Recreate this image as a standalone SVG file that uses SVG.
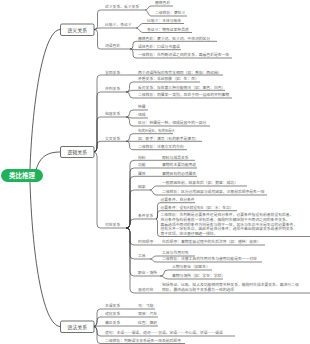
<svg xmlns="http://www.w3.org/2000/svg" width="310" height="344" viewBox="0 0 310 344">
<style>
text{font-family:"Noto Sans CJK SC","Noto Sans",sans-serif}
.t{font-size:3.8px;fill:#666}
.c{stroke:#333;stroke-width:0.6;fill:none}
.m{stroke:#333;stroke-width:0.8;fill:none}
.u{stroke:#333;stroke-width:0.6}
.box{fill:#fff;stroke:#333;stroke-width:0.7}
.bt{font-size:5px;fill:#444;text-anchor:middle}
.rt{font-size:6.5px;font-weight:bold;fill:#fff;text-anchor:middle}
</style>
<rect width="310" height="344" fill="#fff"/>
<g id="connectors">
<path class="m" d="M30 169 C32 110 42 29.5 60.5 29.5"/>
<path class="m" d="M36 170 C40 156 48 152 60.5 152"/>
<path class="m" d="M30 182 C32 250 42 326.5 60.5 326.5"/>
<path class="c" d="M94 29.5 Q97.5 29.5 97.5 26.5 V13 Q97.5 10 100.5 10"/>
<path class="c" d="M94 29.5 C96 29.5 96 28 100.5 28"/>
<path class="c" d="M94 29.5 Q97.5 29.5 97.5 32.5 V46 Q97.5 49 100.5 49"/>
<path class="c" d="M145 10 C148 10 148 6 151 6"/>
<path class="c" d="M145 10 C148 10 148 16 151 16"/>
<path class="c" d="M136 28 C139.5 28 139.5 23.5 142.5 23.5"/>
<path class="c" d="M136 28 C139.5 28 139.5 32.5 142.5 32.5"/>
<path class="c" d="M130 49 Q133 49 133 46 V44.3 Q133 41.3 136 41.3"/>
<path class="c" d="M130 49 C133 49 133 49.7 136 49.7"/>
<path class="c" d="M130 49 Q133 49 133 52 V55 Q133 58 136 58"/>
<path class="c" d="M93 152 Q97 152 97 148 V79 Q97 75 100 75"/>
<path class="c" d="M93 152 Q97 152 97 148 V96 Q97 92 100 92"/>
<path class="c" d="M93 152 Q97 152 97 148 V121 Q97 117 100 117"/>
<path class="c" d="M93 152 Q97 152 97 148 V145.3 Q97 141.3 100 141.3"/>
<path class="c" d="M93 152 Q97 152 97 156 V224 Q97 228 100 228"/>
<path class="c" d="M126 75 H133"/>
<path class="c" d="M126 92 Q129.5 92 129.5 88.5 V85.5 Q129.5 82 133 82"/>
<path class="c" d="M126 92 C129.5 92 129.5 90.3 133 90.3"/>
<path class="c" d="M126 92 Q129.5 92 129.5 95 Q129.5 98 133 98"/>
<path class="c" d="M126 117 Q129.5 117 129.5 113.5 Q129.5 110 133 110"/>
<path class="c" d="M126 117 C129.5 117 129.5 118 133 118"/>
<path class="c" d="M126 117 Q129.5 117 129.5 120.5 V122.5 Q129.5 126 133 126"/>
<path class="c" d="M126 141.3 Q129.5 141.3 129.5 137.5 Q129.5 133.7 133 133.7"/>
<path class="c" d="M126 141.3 H133"/>
<path class="c" d="M126 141.3 Q129.5 141.3 129.5 145.5 Q129.5 149.7 133 149.7"/>
<path class="c" d="M126 228 Q130 228 130 224 V164.3 Q130 160.3 134 160.3"/>
<path class="c" d="M126 228 Q130 228 130 224 V172 Q130 168 134 168"/>
<path class="c" d="M126 228 Q130 228 130 224 V180.3 Q130 176.3 134 176.3"/>
<path class="c" d="M126 228 Q130 228 130 224 V194 Q130 190 134 190"/>
<path class="c" d="M126 228 Q130 228 130 224 V223 Q130 219 134 219"/>
<path class="c" d="M126 228 Q130 228 130 232 V241 Q130 245 134 245"/>
<path class="c" d="M126 228 Q130 228 130 232 V255 Q130 259 134 259"/>
<path class="c" d="M126 228 Q130 228 130 232 V272 Q130 276 134 276"/>
<path class="c" d="M126 228 Q130 228 130 232 V289 Q130 293 134 293"/>
<path class="c" d="M150 160.3 H154"/>
<path class="c" d="M150 168 H154"/>
<path class="c" d="M150 176.3 H154"/>
<path class="c" d="M150 190 C153 190 153 186 156 186"/>
<path class="c" d="M150 190 C153 190 153 195 156 195"/>
<path class="c" d="M156 219 Q157.5 219 157.5 216 V205.7 Q157.5 202.7 160 202.7"/>
<path class="c" d="M156 219 Q157.5 219 157.5 216 V213.2 Q157.5 210.7 160 210.7"/>
<path class="c" d="M156 219 Q157.5 219 157.5 222 V233.8 Q157.5 236.5 160 236.5"/>
<path class="c" d="M156 245 H160"/>
<path class="c" d="M150 259 C153 259 153 256 156 256"/>
<path class="c" d="M150 259 C153 259 153 262 156 262"/>
<path class="c" d="M160 276 Q164 276 164 273 Q164 270 168 270"/>
<path class="c" d="M160 276 C164 276 164 279 168 279"/>
<path class="c" d="M156 293 H160"/>
<path class="c" d="M93 326.5 Q97 326.5 97 322.5 V313 Q97 309 100 309"/>
<path class="c" d="M93 326.5 Q97 326.5 97 322.5 V321 Q97 317 100 317"/>
<path class="c" d="M93 326.5 C96 326.5 96 326 100 326"/>
<path class="c" d="M93 326.5 Q97 326.5 97 330.5 V332 Q97 336 100 336"/>
<path class="c" d="M93 326.5 Q97 326.5 97 330.5 V339.5 Q97 343.5 100 343.5"/>
<path class="c" d="M126 309 H130"/>
<path class="c" d="M126 317 H130"/>
<path class="c" d="M126 326 H130"/>
</g>
<g id="root"><rect x="1" y="169" width="42" height="13" rx="6.5" fill="#21b15a"/><text class="rt" x="22" y="178">类比推理</text></g>

<g id="n-semantic"><rect class="box" x="60.5" y="24" width="33.5" height="11.5" rx="1.5"/><text class="bt" x="77.25" y="31.6">语义关系</text></g>
<g id="s1"><line class="u" x1="100.5" y1="10" x2="145" y2="10"/><text class="t" x="105" y="8.4">近义关系、反义关系</text></g>
<g id="s1a"><line class="u" x1="151" y1="6" x2="173" y2="6"/><text class="t" x="155" y="4.4">感情色彩</text></g>
<g id="s1b"><line class="u" x1="151" y1="16" x2="187" y2="16"/><text class="t" x="155" y="14.4">二级辨析：褒贬义</text></g>
<g id="s2"><line class="u" x1="100.5" y1="28" x2="136" y2="28"/><text class="t" x="105" y="26.4">比喻义、象征义</text></g>
<g id="s2a"><line class="u" x1="142.5" y1="23.5" x2="184" y2="23.5"/><text class="t" x="147" y="21.9">比喻义：本体与喻体</text></g>
<g id="s2b"><line class="u" x1="142.5" y1="32.5" x2="192" y2="32.5"/><text class="t" x="147" y="30.9">象征义：物象征某种品质</text></g>
<g id="s3"><line class="u" x1="100.5" y1="49" x2="130" y2="49"/><text class="t" x="105" y="47.4">词语色彩</text></g>
<g id="s3a"><line class="u" x1="136" y1="41.3" x2="217" y2="41.3"/><text class="t" x="138" y="39.7">感情色彩：褒义词、贬义词、中性词的区分</text></g>
<g id="s3b"><line class="u" x1="136" y1="49.7" x2="181" y2="49.7"/><text class="t" x="138" y="48.1">语体色彩：口语与书面语</text></g>
<g id="s3c"><line class="u" x1="136" y1="58" x2="232" y2="58"/><text class="t" x="138" y="56.4">一级辨析：先判断词语之间的关系，再看色彩是否一致</text></g>

<g id="n-logic"><rect class="box" x="60.5" y="146.5" width="33.5" height="11" rx="1.5"/><text class="bt" x="77.25" y="153.9">逻辑关系</text></g>
<g id="l1"><line class="u" x1="100" y1="75" x2="126" y2="75"/><text class="t" x="105" y="73.7">全同关系</text></g>
<g id="l1a"><line class="u" x1="133" y1="75" x2="223" y2="75"/><text class="t" x="138" y="73.7">两个词语所指对象完全相同（如：番茄：西红柿）</text></g>
<g id="l2"><line class="u" x1="100" y1="92" x2="126" y2="92"/><text class="t" x="105" y="90.4">并列关系</text></g>
<g id="l2a"><line class="u" x1="133" y1="82" x2="200" y2="82"/><text class="t" x="138" y="80.4">矛盾关系：非此即彼（如：生：死）</text></g>
<g id="l2b"><line class="u" x1="133" y1="90.3" x2="225" y2="90.3"/><text class="t" x="138" y="88.7">反对关系：存在第三种可能情况（如：黑色：白色）</text></g>
<g id="l2c"><line class="u" x1="133" y1="98" x2="232" y2="98"/><text class="t" x="138" y="96.4">二级辨析：同属某一类别，且处于同一层级的并列事物</text></g>
<g id="l3"><line class="u" x1="100" y1="117" x2="126" y2="117"/><text class="t" x="105" y="115.4">包容关系</text></g>
<g id="l3a"><line class="u" x1="133" y1="110" x2="148" y2="110"/><text class="t" x="138" y="108.4">种属</text></g>
<g id="l3b"><line class="u" x1="133" y1="118" x2="148" y2="118"/><text class="t" x="138" y="116.4">组成</text></g>
<g id="l3c"><line class="u" x1="133" y1="126" x2="210" y2="126"/><text class="t" x="138" y="124.4">区分：种属是一种，组成是其中的一部分</text></g>
<g id="l4"><line class="u" x1="100" y1="141.3" x2="126" y2="141.3"/><text class="t" x="105" y="139.7">交叉关系</text></g>
<g id="l4a"><line class="u" x1="133" y1="133.7" x2="173" y2="133.7"/><text class="t" x="138" y="132.1">有的A是B，有的B是A</text></g>
<g id="l4b"><line class="u" x1="133" y1="141.3" x2="202" y2="141.3"/><text class="t" x="138" y="139.7">如：歌手：演员（有的歌手是演员）</text></g>
<g id="l4c"><line class="u" x1="133" y1="149.7" x2="187" y2="149.7"/><text class="t" x="138" y="148.1">二级辨析：注意交叉的方向</text></g>
<g id="l5"><line class="u" x1="100" y1="228" x2="126" y2="228"/><text class="t" x="105" y="226.4">对应关系</text></g>
<g id="l5a"><line class="u" x1="134" y1="160.3" x2="150" y2="160.3"/><text class="t" x="138" y="158.7">材料</text></g>
<g id="l5a1"><line class="u" x1="154" y1="160.3" x2="195" y2="160.3"/><text class="t" x="162" y="158.7">原料与成品关系</text></g>
<g id="l5b"><line class="u" x1="134" y1="168" x2="150" y2="168"/><text class="t" x="138" y="166.4">功能</text></g>
<g id="l5b1"><line class="u" x1="154" y1="168" x2="197" y2="168"/><text class="t" x="162" y="166.4">事物的主要功能用途</text></g>
<g id="l5c"><line class="u" x1="134" y1="176.3" x2="150" y2="176.3"/><text class="t" x="138" y="174.7">属性</text></g>
<g id="l5c1"><line class="u" x1="154" y1="176.3" x2="197" y2="176.3"/><text class="t" x="162" y="174.7">事物具有的必然属性</text></g>
<g id="l5d"><line class="u" x1="134" y1="190" x2="150" y2="190"/><text class="t" x="138" y="188.4">因果</text></g>
<g id="l5d1"><line class="u" x1="156" y1="186" x2="247" y2="186"/><text class="t" x="162" y="184.4">一般原因在前，结果在后（如：勤奋：成功）</text></g>
<g id="l5d2"><line class="u" x1="156" y1="195" x2="267" y2="195"/><text class="t" x="162" y="193.4">二级辨析：区分必然因果与或然因果，注意前后顺序是否一致</text></g>
<g id="l5e"><line class="u" x1="134" y1="219" x2="156" y2="219"/><text class="t" x="138" y="217.4">条件关系</text></g>
<g id="l5e1"><line class="u" x1="160" y1="202.7" x2="195" y2="202.7"/><text class="t" x="160.5" y="201.1">必要条件、充分条件</text></g>
<g id="l5e2"><line class="u" x1="160" y1="210.7" x2="237" y2="210.7"/><text class="t" x="160.5" y="209.1">必要条件：没有A就没有B（如：水：生命）</text></g>
<g id="l5e3"><line class="u" x1="160" y1="236.5" x2="310" y2="236.5"/>
<text class="t" x="160.5" y="215.9">二级辨析：先判断是必要条件还是充分条件，必要条件指没有前者就没有后者，</text>
<text class="t" x="160.5" y="220.7">充分条件指有前者就一定有后者；做题时先确定题干中两词之间的条件关系，</text>
<text class="t" x="160.5" y="225.5">再看选项中两词的条件方向是否与题干一致，如水与生命中水是生命的必要条件，</text>
<text class="t" x="160.5" y="230.3">但有水不一定有生命，因此不是充分条件；选项中若出现因果关系或者并列关系</text>
<text class="t" x="160.5" y="235.1">等干扰项，应注意仔细逐一排除。</text></g>
<g id="l5f"><line class="u" x1="134" y1="245" x2="156" y2="245"/><text class="t" x="138" y="243.4">时间顺序</text></g>
<g id="l5f1"><line class="u" x1="160" y1="245" x2="265" y2="245"/><text class="t" x="162" y="243.4">先后顺序：事物发展过程中的先后次序（如：播种：收获）</text></g>
<g id="l5g"><line class="u" x1="134" y1="259" x2="150" y2="259"/><text class="t" x="138" y="257.4">工具</text></g>
<g id="l5g1"><line class="u" x1="156" y1="256" x2="195" y2="256"/><text class="t" x="162" y="254.4">工具与作用对象</text></g>
<g id="l5g2"><line class="u" x1="156" y1="262" x2="262" y2="262"/><text class="t" x="162" y="260.4">二级辨析：注意工具的作用对象与使用功能是否一一对应</text></g>
<g id="l5h"><line class="u" x1="134" y1="276" x2="160" y2="276"/><text class="t" x="138" y="274.4">职业·场所</text></g>
<g id="l5h1"><line class="u" x1="168" y1="270" x2="212" y2="270"/><text class="t" x="172" y="268.4">人物与职业（如医生）</text></g>
<g id="l5h2"><line class="u" x1="168" y1="279" x2="223" y2="279"/><text class="t" x="172" y="277.4">事物与场所（如：学生：学校）</text></g>
<g id="l5i"><line class="u" x1="134" y1="293" x2="156" y2="293"/><text class="t" x="138" y="291.4">其他对应</text></g>
<g id="l5i1"><line class="u" x1="160" y1="293" x2="310" y2="293"/>
<text class="t" x="162" y="285.9">包括象征、比喻、拟人及功能相同等多种关系，做题时先找主要关系，再进行二级</text>
<text class="t" x="162" y="290.9">辨析，最终选出与题干关系最为一致的选项</text></g>

<g id="n-grammar"><rect class="box" x="60.5" y="321" width="33.5" height="11.5" rx="1.5"/><text class="bt" x="77.25" y="328.6">语法关系</text></g>
<g id="g1"><line class="u" x1="100" y1="309" x2="126" y2="309"/><text class="t" x="105" y="307.4">主谓关系</text></g>
<g id="g1a"><line class="u" x1="130" y1="309" x2="155" y2="309"/><text class="t" x="138" y="307.4">鸟：飞翔</text></g>
<g id="g2"><line class="u" x1="100" y1="317" x2="126" y2="317"/><text class="t" x="105" y="315.4">动宾关系</text></g>
<g id="g2a"><line class="u" x1="130" y1="317" x2="158" y2="317"/><text class="t" x="138" y="315.4">驾驶：汽车</text></g>
<g id="g3"><line class="u" x1="100" y1="326" x2="126" y2="326"/><text class="t" x="105" y="324.4">偏正关系</text></g>
<g id="g3a"><line class="u" x1="130" y1="326" x2="158" y2="326"/><text class="t" x="138" y="324.4">红色：旗帜</text></g>
<g id="g4"><line class="u" x1="100" y1="336" x2="235" y2="336"/><text class="t" x="105" y="334.4">造句：主语……谓语，动词……宾语，定语……中心语，状语……谓语</text></g>
<g id="g5"><line class="u" x1="100" y1="343.5" x2="185" y2="343.5"/><text class="t" x="105" y="342">二级辨析：判断语法关系是否一致及前后顺序</text></g>
</svg>
